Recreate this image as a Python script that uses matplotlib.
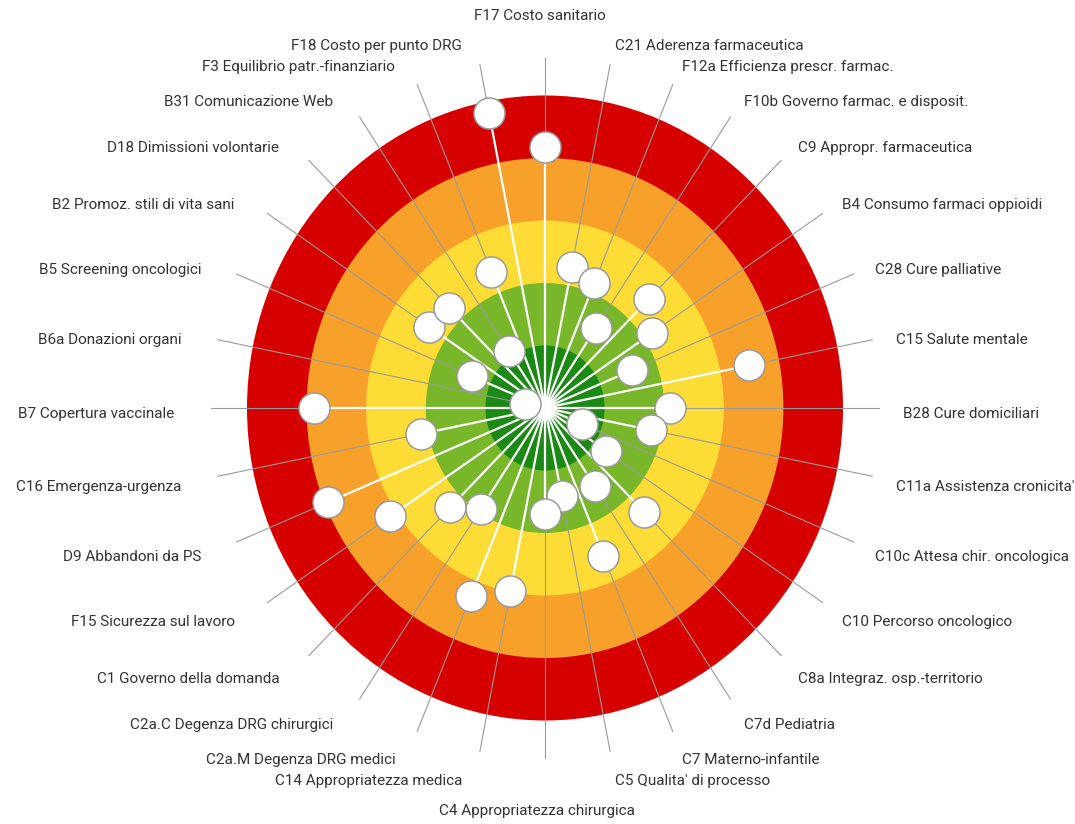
import numpy as np
import matplotlib
matplotlib.use('Agg')
import matplotlib.pyplot as plt
from matplotlib.patches import Circle
from matplotlib import font_manager

# indicatori in senso orario, partendo dall'alto
labels = ["F17 Costo sanitario", "C21 Aderenza farmaceutica",
          "F12a Efficienza prescr. farmac.", "F10b Governo farmac. e disposit.",
          "C9 Appropr. farmaceutica", "B4 Consumo farmaci oppioidi",
          "C28 Cure palliative", "C15 Salute mentale", "B28 Cure domiciliari",
          "C11a Assistenza cronicita'", "C10c Attesa chir. oncologica",
          "C10 Percorso oncologico", "C8a Integraz. osp.-territorio",
          "C7d Pediatria", "C7 Materno-infantile", "C5 Qualita' di processo",
          "C4 Appropriatezza chirurgica", "C14 Appropriatezza medica",
          "C2a.M Degenza DRG medici", "C2a.C Degenza DRG chirurgici",
          "C1 Governo della domanda", "F15 Sicurezza sul lavoro",
          "D9 Abbandoni da PS", "C16 Emergenza-urgenza", "B7 Copertura vaccinale",
          "B6a Donazioni organi", "B5 Screening oncologici",
          "B2 Promoz. stili di vita sani", "D18 Dimissioni volontarie",
          "B31 Comunicazione Web", "F3 Equilibrio patr.-finanziario",
          "F18 Costo per punto DRG"]

# punteggi (0 = pessimo, 5 = ottimo)
scores = [0.82, 2.70, 2.83, 3.46, 2.53, 2.84, 3.42, 1.51, 2.90, 3.19, 4.32,
          3.77, 2.65, 3.49, 2.44, 3.57, 3.30, 2.01, 1.74, 3.06, 2.75, 1.88,
          1.06, 2.88, 1.12, 4.66, 3.68, 2.66, 2.73, 3.90, 2.64, 0.18]

ring_colors = ['#D70000', '#F7A12B', '#FDDC35', '#78B62A', '#1B8A14']  # esterno -> centro

names = {f.name for f in font_manager.fontManager.ttflist}
if 'Liberation Sans Narrow' in names:
    fam, fs = 'Liberation Sans Narrow', 12.5
else:
    fam, fs = 'Roboto', 11

fig = plt.figure(figsize=(10.75, 8.24), dpi=100)
ax = fig.add_axes([0, 0, 1, 1])
ax.set_xlim(-545 / 59.6, 530 / 59.6)
ax.set_ylim(-416 / 62.5, 408 / 62.5)
ax.axis('off')

# anelli del bersaglio
for k, c in enumerate(ring_colors):
    ax.add_patch(Circle((0, 0), 5 - k, color=c, lw=0, zorder=1))

n = len(labels)
theta = np.deg2rad(90 - np.arange(n) * 360 / n)
r = 5 - np.array(scores)

for i in range(n):
    c, s = np.cos(theta[i]), np.sin(theta[i])
    ax.plot([0, 5.6 * c], [0, 5.6 * s], color='#9a9a9a', lw=0.8, zorder=2)   # raggio grigio
    ax.plot([0, r[i] * c], [0, r[i] * s], color='white', lw=1.6, zorder=3)   # raggio bianco
    # etichetta
    if i == 0:
        ha, off = 'center', (-5, 17)
    elif i == n // 2:
        ha, off = 'center', (-8, -28)
    elif c > 0:
        ha, off = 'left', (0, -5.5)
    else:
        ha, off = 'right', (-13, -5.5)
    ax.annotate(labels[i], xy=(6 * c, 6 * s), xytext=off, textcoords='offset pixels',
                ha=ha, va='center', fontsize=fs, family=fam, color='#333333')

ax.scatter(r * np.cos(theta), r * np.sin(theta), s=500, color='white',
           edgecolors='#9a9a9a', linewidths=1.1, zorder=4)

fig.savefig('out.png', dpi=100)
